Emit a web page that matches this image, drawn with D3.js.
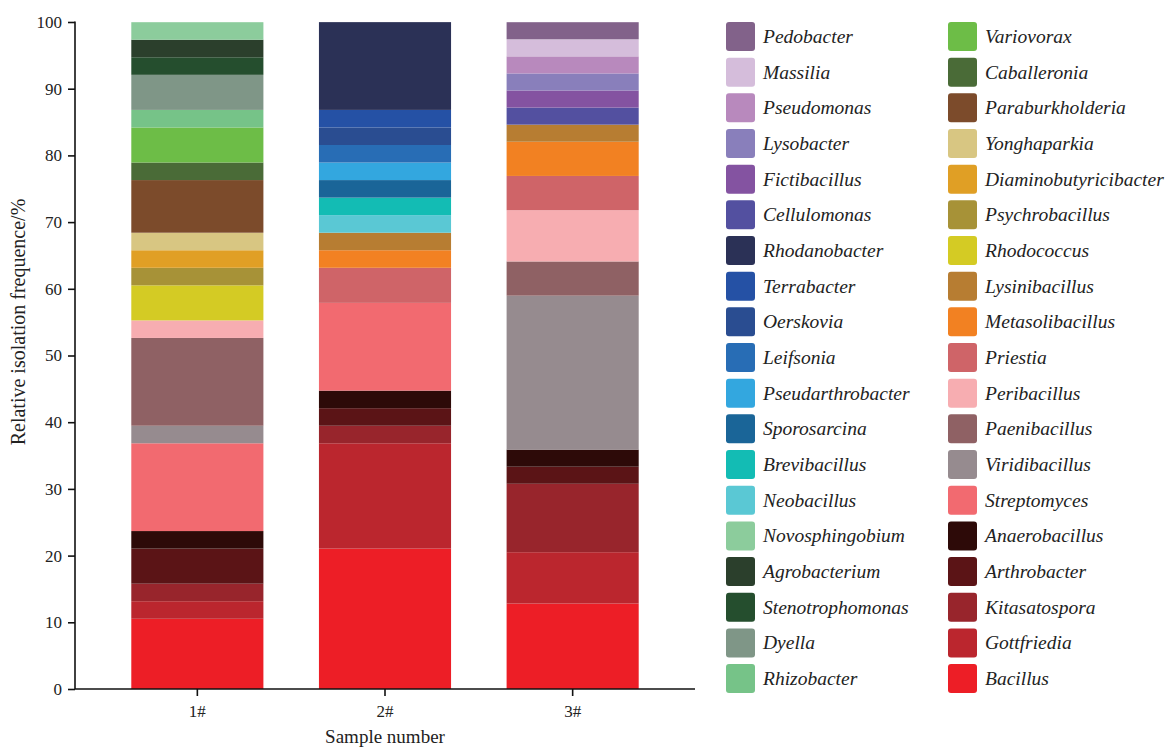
<!DOCTYPE html>
<html>
<head>
<meta charset="utf-8">
<script src="https://cdn.jsdelivr.net/npm/d3@7"></script>
<style>
  body { margin: 0; background: #fff; }
  svg text { font-family: "Liberation Serif", "Times New Roman", serif; fill: #222; }
  .legend-label { font-style: italic; }
</style>
</head>
<body>
<div id="chart-container"></div>
<script>
// samples on the x axis
var samples = ["1#", "2#", "3#"];

// genera in stacking order, bottom first
var genera = ["Bacillus", "Gottfriedia", "Kitasatospora", "Arthrobacter", "Anaerobacillus",
  "Streptomyces", "Viridibacillus", "Paenibacillus", "Peribacillus", "Priestia",
  "Metasolibacillus", "Lysinibacillus", "Rhodococcus", "Psychrobacillus", "Diaminobutyricibacter",
  "Yonghaparkia", "Paraburkholderia", "Caballeronia", "Variovorax", "Rhizobacter",
  "Dyella", "Stenotrophomonas", "Agrobacterium", "Novosphingobium", "Neobacillus",
  "Brevibacillus", "Sporosarcina", "Pseudarthrobacter", "Leifsonia", "Oerskovia",
  "Terrabacter", "Rhodanobacter", "Cellulomonas", "Fictibacillus", "Lysobacter",
  "Pseudomonas", "Massilia", "Pedobacter"];

var genusColors = ["#ed1e26", "#bb262e", "#98252c", "#5b1416", "#2d0a08",
  "#f26a70", "#968b8f", "#8f6164", "#f7adb1", "#cf6468",
  "#f28122", "#b77d32", "#d4cb24", "#a79237", "#e09f25",
  "#d8c682", "#7c4b2b", "#4a6b37", "#6dbd47", "#76c388",
  "#7f9687", "#254e2e", "#2b3f2c", "#8ccc9c", "#5ac8d4",
  "#13bcb4", "#1a6598", "#33a7df", "#286db5", "#2a4d91",
  "#2551a5", "#2b3156", "#5350a0", "#8453a1", "#897fbb",
  "#b889bd", "#d5bddb", "#82628a"];

// relative isolation frequence (%) per genus, one value per sample (1#, 2#, 3#)
var bacillus        = [10.53, 21.05, 12.82];
var gottfriedia     = [2.63, 15.79, 7.69];
var kitasatospora   = [2.63, 2.63, 10.26];
var arthrobacter    = [5.26, 2.63, 2.56];
var anaerobacillus  = [2.63, 2.63, 2.56];
var streptomyces    = [13.16, 13.16, 0];
var viridibacillus  = [2.63, 0, 23.08];
var paenibacillus   = [13.16, 0, 5.13];
var peribacillus    = [2.63, 0, 7.69];
var priestia        = [0, 5.26, 5.13];
var metasolibacillus = [0, 2.63, 5.13];
var lysinibacillus  = [0, 2.63, 2.56];
var rhodococcus     = [5.26, 0, 0];
var psychrobacillus = [2.63, 0, 0];
var diaminobutyricibacter = [2.63, 0, 0];
var yonghaparkia    = [2.63, 0, 0];
var paraburkholderia = [7.89, 0, 0];
var caballeronia    = [2.63, 0, 0];
var variovorax      = [5.26, 0, 0];
var rhizobacter     = [2.63, 0, 0];
var dyella          = [5.26, 0, 0];
var stenotrophomonas = [2.63, 0, 0];
var agrobacterium   = [2.63, 0, 0];
var novosphingobium = [2.63, 0, 0];
var neobacillus     = [0, 2.63, 0];
var brevibacillus   = [0, 2.63, 0];
var sporosarcina    = [0, 2.63, 0];
var pseudarthrobacter = [0, 2.63, 0];
var leifsonia       = [0, 2.63, 0];
var oerskovia       = [0, 2.63, 0];
var terrabacter     = [0, 2.63, 0];
var rhodanobacter   = [0, 13.16, 0];
var cellulomonas    = [0, 0, 2.56];
var fictibacillus   = [0, 0, 2.56];
var lysobacter      = [0, 0, 2.56];
var pseudomonas     = [0, 0, 2.56];
var massilia        = [0, 0, 2.56];
var pedobacter      = [0, 0, 2.56];

var seriesValues = [bacillus, gottfriedia, kitasatospora, arthrobacter, anaerobacillus,
  streptomyces, viridibacillus, paenibacillus, peribacillus, priestia,
  metasolibacillus, lysinibacillus, rhodococcus, psychrobacillus, diaminobutyricibacter,
  yonghaparkia, paraburkholderia, caballeronia, variovorax, rhizobacter,
  dyella, stenotrophomonas, agrobacterium, novosphingobium, neobacillus,
  brevibacillus, sporosarcina, pseudarthrobacter, leifsonia, oerskovia,
  terrabacter, rhodanobacter, cellulomonas, fictibacillus, lysobacter,
  pseudomonas, massilia, pedobacter];

var yTicks = [0, 10, 20, 30, 40, 50, 60, 70, 80, 90, 100];

var width = 1169;
var height = 747;
var margin = {top: 22, left: 75, bottom: 58};
var plotBottom = height - margin.bottom;

var svg = d3.select("#chart-container")
    .append("svg")
    .attr("width", width)
    .attr("height", height);

// build one row per sample for d3.stack
var table = samples.map(function(s, i) {
    var row = {sample: s};
    genera.forEach(function(g, j) { row[g] = seriesValues[j][i]; });
    return row;
});

var stacked = d3.stack().keys(genera)(table);

var x = d3.scaleBand()
    .domain(samples)
    .range([margin.left, 695])
    .paddingInner(0.296)
    .paddingOuter(0.30);

var y = d3.scaleLinear()
    .domain([0, 100])
    .range([plotBottom, margin.top]);

var color = d3.scaleOrdinal().domain(genera).range(genusColors);

// the stacked bars
svg.append("g")
    .selectAll("g")
    .data(stacked)
    .enter()
    .append("g")
    .attr("fill", function(d) { return color(d.key); })
    .selectAll("rect")
    .data(function(d) { return d; })
    .enter()
    .append("rect")
    .attr("x", function(d) { return x(d.data.sample); })
    .attr("y", function(d) { return y(d[1]); })
    .attr("width", x.bandwidth())
    .attr("height", function(d) { return y(d[0]) - y(d[1]); });

// axes
var yAxis = svg.append("g")
    .attr("transform", "translate(" + margin.left + ",0)")
    .call(d3.axisLeft(y).tickValues(yTicks).tickSize(7).tickPadding(6));

var xAxis = svg.append("g")
    .attr("transform", "translate(0," + plotBottom + ")")
    .call(d3.axisBottom(x).tickSize(7).tickPadding(9).tickSizeOuter(0));

[yAxis, xAxis].forEach(function(a) {
    a.select(".domain").attr("stroke", "#111").attr("stroke-width", 1.6);
    a.selectAll(".tick line").attr("stroke", "#111").attr("stroke-width", 1.6);
    a.selectAll("text").style("font-size", "17px").attr("fill", "#222");
});
yAxis.select(".domain").attr("d", "M0," + (margin.top - 0.5) + "V" + plotBottom);
xAxis.select(".domain").attr("d", "M" + margin.left + ",0H695");

// axis titles
svg.append("text")
    .attr("transform", "translate(25,322) rotate(-90)")
    .attr("text-anchor", "middle")
    .style("font-size", "20px")
    .text("Relative isolation frequence/%");

svg.append("text")
    .attr("x", x("2#") + x.bandwidth() / 2)
    .attr("y", 743)
    .attr("text-anchor", "middle")
    .style("font-size", "19px")
    .text("Sample number");

// legend: two columns, top-down is reverse of stacking order
var legendOrder = genera.slice().reverse();
var perColumn = 19;
var legend = svg.append("g")
    .selectAll(".legend-item")
    .data(legendOrder)
    .enter()
    .append("g")
    .attr("class", "legend-item")
    .attr("transform", function(d, i) {
        var col = Math.floor(i / perColumn);
        var row = i % perColumn;
        return "translate(" + (726 + col * 222) + "," + (22 + row * 35.67) + ")";
    });

legend.append("rect")
    .attr("width", 29)
    .attr("height", 29)
    .attr("rx", 3)
    .attr("fill", function(d) { return color(d); });

legend.append("text")
    .attr("class", "legend-label")
    .attr("x", 37)
    .attr("y", 21)
    .style("font-size", "19.5px")
    .text(function(d) { return d; });
</script>
</body>
</html>
